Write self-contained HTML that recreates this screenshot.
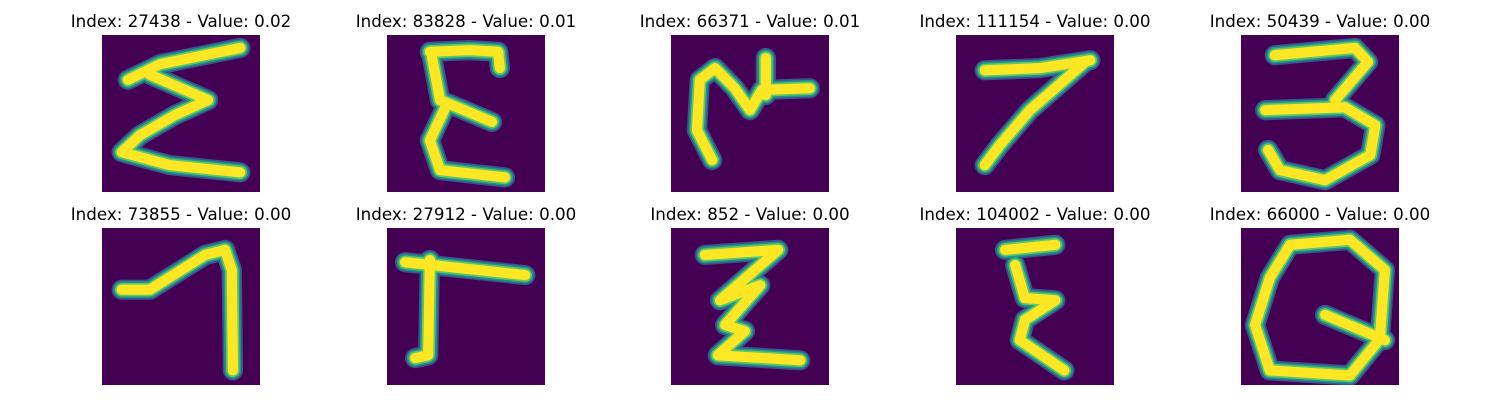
<!DOCTYPE html>
<html><head><meta charset="utf-8">
<style>
body{margin:0;background:#fff;width:1500px;height:400px;overflow:hidden;font-family:"DejaVu Sans","Liberation Sans",sans-serif;}
svg{display:block}
</style></head>
<body>
<svg id="chart" width="1500" height="400" xmlns="http://www.w3.org/2000/svg"></svg>
<script>
const indices=[27438,83828,66371,111154,50439,73855,27912,852,104002,66000];
const values=["0.02","0.01","0.01","0.00","0.00","0.00","0.00","0.00","0.00","0.00"];
const strokes=[
 [[[4.6,8],[10.3,5.2],[24.5,2.3]],[[8.5,7.1],[18.8,11.6],[12.9,14.3],[6.7,17.9],[3.5,20.9],[12,23.2],[24.5,24.5]]],
 [[[7.6,3],[14.7,2.7],[19.7,3],[20,5.9]],[[8,4.1],[9.4,11.6],[18.6,15.5]],[[10.3,13],[7.6,18.8],[9.4,24.1],[20.9,25.4]]],
 [[[7.3,22.3],[4.6,17],[5.1,8],[7.8,5.9],[11.3,9.5],[14,13.4],[16.1,9.8],[24.6,9.5]],[[16.8,4.1],[16.8,10.7]]],
 [[[5.1,6.3],[14.9,5.9],[23.8,4.5]],[[22.9,4.8],[13.1,13.4],[7.8,19.6],[5.1,23.2]]],
 [[[6,3.6],[20.2,2.3],[22.5,4.8],[16.7,11.6]],[[4.3,13.4],[18.4,12.9]],[[18.4,12.9],[23.8,16.1],[22.9,21.4],[14.9,25.9],[6.9,24.1],[4.8,20.5]]],
 [[[3.5,11],[8.5,11],[18.3,4.8],[21.8,3.9],[23,7.5],[23.2,25.4]]],
 [[[3.2,6.1],[24.5,8.4]],[[7.6,5.7],[7.3,22.7],[5,23.2]]],
 [[[6,4.8],[19,3.9],[8.7,12.9],[15.8,10.2],[9.6,17.3],[13.1,18.4],[8.3,22.7],[22.9,23.6]]],
 [[[8.7,3.9],[17.6,3]],[[10.5,6.6],[12.2,12.5],[17.6,12.9],[12.2,16.4],[11.3,20],[19.2,25.4]]],
 [[[8.7,3],[19.3,2.1],[25.5,7.5],[24.6,19.8],[19.3,26.3],[5.1,25.4],[2.5,17.3],[5.1,8.9],[8.7,3]],[[14.9,15.5],[25.5,20]]]
];
const colX=[102,387,671,956,1241], rowY=[35,228], W=158, H=157;
const NS="http://www.w3.org/2000/svg";
const svg=document.getElementById('chart');
indices.forEach((idx,i)=>{
  const x0=colX[i%5], y0=rowY[Math.floor(i/5)];
  const t=document.createElementNS(NS,'text');
  
  
  t.setAttribute('x',x0+W/2);t.setAttribute('y',y0-8);
  t.setAttribute('text-anchor','middle');t.setAttribute('font-size','16.7');
  t.textContent='Index: '+idx+' - Value: '+values[i];
  svg.appendChild(t);
  const g=document.createElementNS(NS,'svg');
  
  
  g.setAttribute('x',x0);g.setAttribute('y',y0);g.setAttribute('width',W);g.setAttribute('height',H);
  g.setAttribute('viewBox','0 0 28 28');g.setAttribute('preserveAspectRatio','none');
  const bg=document.createElementNS(NS,'rect');
  bg.setAttribute('width',28);bg.setAttribute('height',28);bg.setAttribute('fill','#440154');
  g.appendChild(bg);
  [['#3b528b',3.6],['#21918c',3.0],['#5ec962',2.4],['#fde725',1.8]].forEach(([c,w])=>{
    strokes[i].forEach(s=>{
      const p=document.createElementNS(NS,'polyline');
      
      
      p.setAttribute('points',s.map(q=>q.join(',')).join(' '));
      p.setAttribute('fill','none');p.setAttribute('stroke',c);p.setAttribute('stroke-width',w);
      p.setAttribute('stroke-linecap','round');p.setAttribute('stroke-linejoin','round');
      g.appendChild(p);
    });
  });
  svg.appendChild(g);
});
</script>
</body></html>
